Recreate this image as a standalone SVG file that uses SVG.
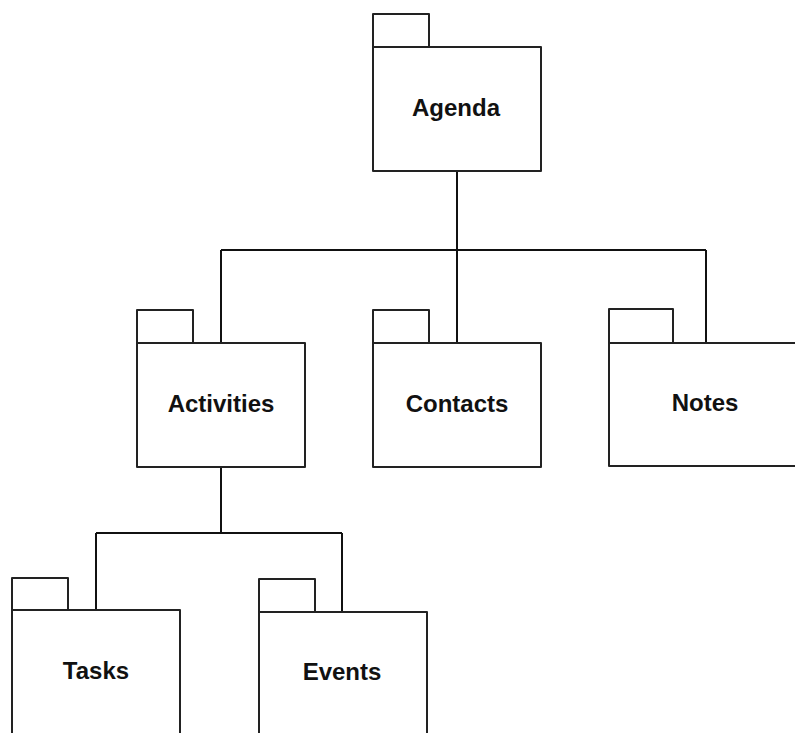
<svg xmlns="http://www.w3.org/2000/svg" width="795" height="733" viewBox="0 0 795 733">
  <style>
    .pkg { fill: #ffffff; stroke: #222222; stroke-width: 2; stroke-linejoin: round; }
    .lbl { font-family: "Liberation Sans", Arial, sans-serif; font-weight: bold; font-size: 24px; fill: #111111; text-anchor: middle; }
    .conn { fill: none; stroke: #111111; stroke-width: 2; }
  </style>
  <rect width="795" height="733" fill="#ffffff"/>

  <g id="connectors">
    <path class="conn" d="M457 171 V250 M221 250 H706 M221 250 V343 M457 250 V343 M706 250 V343"/>
    <path class="conn" d="M221 467 V533 M96 533 H342 M96 533 V610 M342 533 V612"/>
  </g>

  <g id="agenda">
    <rect class="pkg" x="373" y="14" width="56" height="33"/>
    <rect class="pkg" x="373" y="47" width="168" height="124"/>
    <text class="lbl" x="456" y="116">Agenda</text>
  </g>

  <g id="activities">
    <rect class="pkg" x="137" y="310" width="56" height="33"/>
    <rect class="pkg" x="137" y="343" width="168" height="124"/>
    <text class="lbl" x="221" y="412">Activities</text>
  </g>

  <g id="contacts">
    <rect class="pkg" x="373" y="310" width="56" height="33"/>
    <rect class="pkg" x="373" y="343" width="168" height="124"/>
    <text class="lbl" x="457" y="412">Contacts</text>
  </g>

  <g id="notes">
    <rect class="pkg" x="609" y="309" width="64" height="34"/>
    <rect class="pkg" x="609" y="343" width="192" height="123"/>
    <text class="lbl" x="705" y="411">Notes</text>
  </g>

  <g id="tasks">
    <rect class="pkg" x="12" y="578" width="56" height="32"/>
    <rect class="pkg" x="12" y="610" width="168" height="140"/>
    <text class="lbl" x="96" y="679">Tasks</text>
  </g>

  <g id="events">
    <rect class="pkg" x="259" y="579" width="56" height="33"/>
    <rect class="pkg" x="259" y="612" width="168" height="140"/>
    <text class="lbl" x="342" y="680">Events</text>
  </g>
</svg>
